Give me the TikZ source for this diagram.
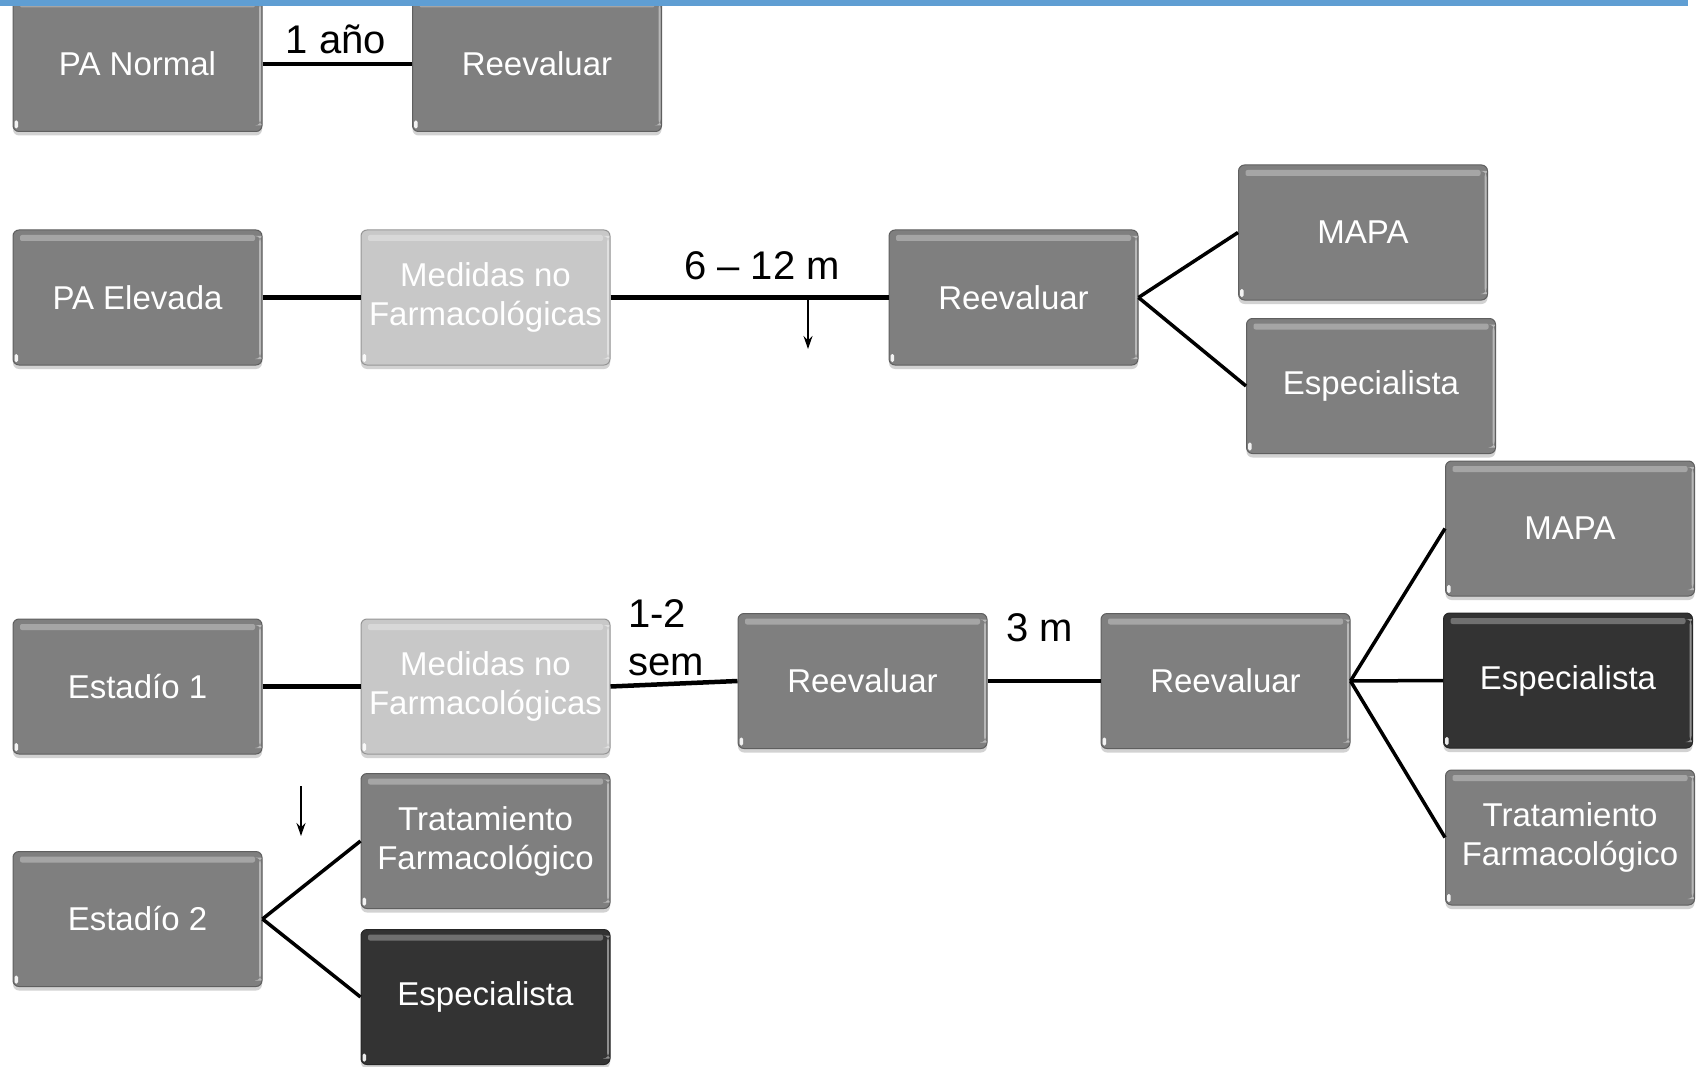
\documentclass[tikz,border=0pt]{standalone}
\usepackage{fontspec}
\setmainfont{Liberation Sans}
\usetikzlibrary{shadows,arrows.meta}
\definecolor{boxgray}{HTML}{7F7F7F}
\definecolor{boxlight}{HTML}{C8C8C8}
\definecolor{boxdark}{HTML}{333333}
\definecolor{topbar}{HTML}{5F9ED3}
\tikzset{
  gbox/.style={draw=#1!75!black, line width=1pt, fill=#1, rounded corners=6pt,
    minimum width=249pt, minimum height=135pt, inner sep=2pt, align=center,
    text=white, font=\fontsize{33}{39}\selectfont,
    drop shadow={shadow xshift=0pt, shadow yshift=-4pt, opacity=.35},
    path picture={
      \fill[white,opacity=.3,rounded corners=2pt]
        ([xshift=7pt,yshift=-5pt]path picture bounding box.north west) rectangle
        ([xshift=-7pt,yshift=-11pt]path picture bounding box.north east);
      \fill[white,opacity=.45]
        ([xshift=-3pt,yshift=6pt]path picture bounding box.south east) rectangle
        ([xshift=-1pt,yshift=-6pt]path picture bounding box.north east);
      \fill[white,opacity=.9,rounded corners=1.5pt]
        ([xshift=1.5pt,yshift=3pt]path picture bounding box.south west) rectangle
        ([xshift=5pt,yshift=11pt]path picture bounding box.south west);
    }},
  gbox/.default=boxgray,
  conn/.style={line width=4.5pt, black},
  branch/.style={line width=3.5pt, black},
  arr/.style={line width=1.5pt, -{Stealth[length=13pt,width=9pt]}},
  lbl/.style={font=\fontsize{40}{48}\selectfont, text=black, inner sep=0pt}
}
\begin{document}
\begin{tikzpicture}[x=1pt,y=-1pt]
\useasboundingbox (0,0) rectangle (1696,1067);
\fill[white] (0,0) rectangle (1696,1067);

% row 1
\node[gbox] (pan) at (137.5,64) {PA Normal};
\node[gbox] (r0)  at (537,64)   {Reevaluar};

% row 2
\node[gbox] (pae)   at (137.5,297.5) {PA Elevada};
\node[gbox=boxlight] (mnf1) at (485.5,297.5) {Medidas no\\Farmacológicas};
\node[gbox] (r1)    at (1013.5,297.5) {Reevaluar};
\node[gbox] (mapa1) at (1363,232.5) {MAPA};
\node[gbox] (esp1)  at (1371,386) {Especialista};

% row 3
\node[gbox] (e1)    at (137.5,686.5) {Estadío 1};
\node[gbox=boxlight] (mnf2) at (485.5,686.5) {Medidas no\\Farmacológicas};
\node[gbox] (r2)    at (862.5,681) {Reevaluar};
\node[gbox] (r3)    at (1225.5,681) {Reevaluar};
\node[gbox] (mapa2) at (1570,528.5) {MAPA};
\node[gbox=boxdark] (esp2) at (1568,680.5) {Especialista};
\node[gbox] (trat2) at (1570,837.5) {Tratamiento\\Farmacológico};

% row 4
\node[gbox] (e2)    at (137.5,919) {Estadío 2};
\node[gbox] (trat1) at (485.5,841) {Tratamiento\\Farmacológico};
\node[gbox=boxdark] (esp3) at (485.5,997) {Especialista};

% top bar
\fill[topbar] (0,0) rectangle (1688,6);

% connectors
\draw[conn] (pan) -- (r0);
\draw[conn] (pae) -- (mnf1);
\draw[conn] (mnf1) -- (r1);
\draw[branch] (r1.east) -- (mapa1.west);
\draw[branch] (r1.east) -- (esp1.west);
\draw[conn] (e1) -- (mnf2);
\draw[conn] (mnf2.east) -- (r2.west);
\draw[conn] (r2) -- (r3);
\draw[branch] (r3.east) -- (mapa2.west);
\draw[branch] (r3.east) -- (esp2.west);
\draw[branch] (r3.east) -- (trat2.west);
\draw[branch] (e2.east) -- (trat1.west);
\draw[branch] (e2.east) -- (esp3.west);

% arrows
\coordinate (a1s) at (808,298);
\coordinate (a1e) at (808,349);
\draw[arr] (a1s) -- (a1e);
\coordinate (a2s) at (301,786);
\coordinate (a2e) at (301,836);
\draw[arr] (a2s) -- (a2e);

% labels
\node[lbl] (l1) at (336,39) {1 año};
\node[lbl] (l2) at (762,266) {6 – 12 m};
\node[lbl, anchor=west, align=left] (l3) at (628,638) {1-2\\sem};
\node[lbl] (l4) at (1040,628) {3 m};
\end{tikzpicture}
\end{document}
